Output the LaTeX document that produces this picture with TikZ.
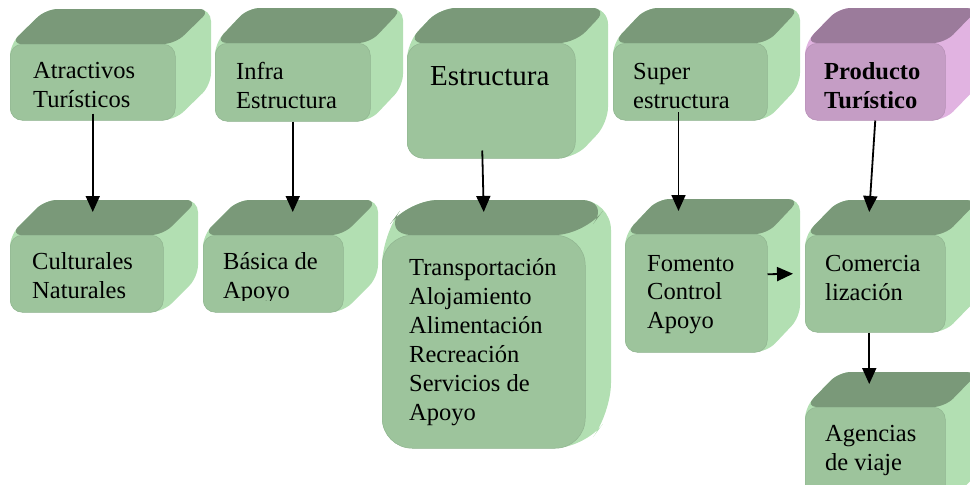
\documentclass[tikz,border=0pt]{standalone}
\usepackage{fontspec}
\setmainfont{Liberation Serif}
\usetikzlibrary{arrows.meta}

\definecolor{verdeF}{HTML}{9DC49C}
\definecolor{verdeA}{HTML}{7A9979}
\definecolor{verdeL}{HTML}{B2DFB2}
\definecolor{moradoF}{HTML}{C59DC5}
\definecolor{moradoA}{HTML}{9B7B9B}
\definecolor{moradoL}{HTML}{E1B3E1}

\tikzset{
  cara/.style={anchor=north west, inner sep=0pt, line width=0.5pt},
  texto/.style={anchor=base west, align=left, inner sep=0pt, font=\fontsize{24.5}{28.5}\selectfont},
  flecha/.style={-{Triangle[length=16pt,width=14pt]}, line width=1.8pt},
}

% #1 colour, #2 name, #3 x, #4 y, #5 width, #6 height, #7 radius, #8 depth
\newcommand{\cubo}[8]{%
  \fill[#1L, rounded corners=#7] (#3,#4) -- ++(#8,-35) -- ++(#5,0) -- ++(0,#6) -- ++(-#8,35) -- ++(-#5,0) -- cycle;
  \fill[#1A, rounded corners=#7] (#3,#4) -- ++(#8,-35) -- ++(#5,0) -- ++(-#8,35) -- cycle;
  \node[cara, fill=#1F, draw=#1F!92!black, rounded corners=#7, minimum width=#5, minimum height=#6] (#2) at (#3,#4) {};
  \coordinate (#2-top) at ([yshift=23pt]#2.north);
}

\begin{document}
\begin{tikzpicture}[x=1pt, y=-1pt]
  \useasboundingbox (0,0) rectangle (970,485);
  \clip (0,0) rectangle (970,485);

  % top row
  \cubo{verde}{atr}{10}{44}{165}{76}{12}{36}
  \cubo{verde}{inf}{215}{43}{155}{78}{12}{33}
  \cubo{verde}{est}{407}{43}{168}{115}{16}{33}
  \cubo{verde}{sup}{613}{43}{154}{77}{12}{33}
  \cubo{morado}{pro}{805}{43}{140}{77}{12}{34}

  % second row
  \cubo{verde}{cul}{10}{235}{153}{77}{12}{35}
  \cubo{verde}{bas}{203}{235}{140}{77}{12}{35}
  \cubo{verde}{tra}{382}{235}{203}{213}{30}{26}
  \cubo{verde}{fom}{625}{234}{142}{118}{12}{33}
  \cubo{verde}{com}{805}{235}{140}{97}{12}{34}
  \cubo{verde}{age}{805}{407}{140}{100}{12}{34}

  % texts (anchor = baseline of the last line)
  \node[texto] (atr-t) at (33,107) {Atractivos\\Turísticos};
  \node[texto] (inf-t) at (236,108) {Infra\\Estructura};
  \node[texto, font=\fontsize{29}{33}\selectfont] (est-t) at (430,85) {Estructura};
  \node[texto] (sup-t) at (633,108) {Super\\estructura};
  \node[texto, font=\bfseries\fontsize{24.5}{28.5}\selectfont] (pro-t) at (824,108) {Producto\\Turístico};
  \begin{scope}
    \clip (0,0) rectangle (380,300);
    \node[texto] (cul-t) at (32,298) {Culturales\\Naturales};
    \node[texto] (bas-t) at (223,298) {Básica de\\Apoyo};
  \end{scope}
  \node[texto, font=\fontsize{24.5}{29}\selectfont] (tra-t) at (409,420) {Transportación\\Alojamiento\\Alimentación\\Recreación\\Servicios de\\Apoyo};
  \node[texto] (fom-t) at (647,328) {Fomento\\Control\\Apoyo};
  \node[texto] (com-t) at (825,300) {Comercia\\lización};
  \begin{scope}
    \clip (800,380) rectangle (970,478);
    \node[texto] (age-t) at (825,470) {Agencias\\de viaje};
  \end{scope}

  \draw[flecha] ([yshift=7pt]atr.south) -- (atr.south |- cul-top);
  \draw[flecha] (inf.south) -- (inf.south |- bas-top);
  \draw[flecha] ([xshift=-9pt,yshift=8pt]est.south) -- (tra-top);
  \draw[flecha] ([xshift=-3pt,yshift=-4pt]sup-t.south) -- ([xshift=-3pt]sup-t.south |- fom-top);
  \draw[flecha] (pro.south) -- ([xshift=-6pt]com-top);
  \draw[flecha] ([yshift=19pt]fom.east) -- ([xshift=-12pt,yshift=10pt]com.west);
  \draw[flecha] ([xshift=-6pt]com.south) -- ([xshift=-6pt]age-top);
\end{tikzpicture}
\end{document}
